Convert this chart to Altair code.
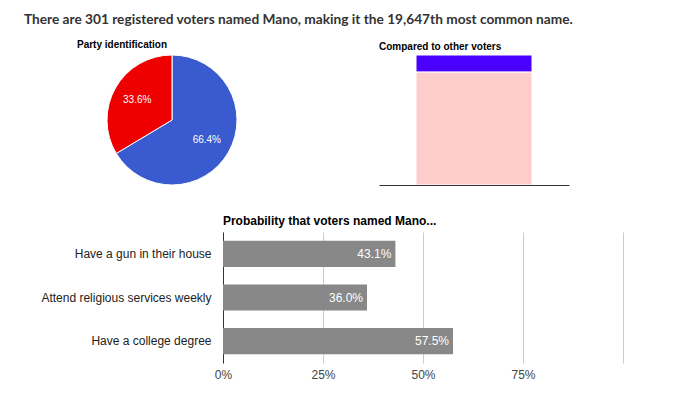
import altair as alt
import pandas as pd

title_text = "There are 301 registered voters named Mano, making it the 19,647th most common name."

party_labels = ["Democrat", "Republican"]
party_values = [0.664, 0.336]
party_colors = ["#3a5bcf", "#ee0000"]

compare_segments = ["Other voters", "Voters named Mano"]
compare_values = [0.87, 0.13]
compare_colors = ["#ffcccc", "#4a00ff"]

prob_labels = ["Have a gun in their house", "Attend religious services weekly", "Have a college degree"]
prob_values = [0.431, 0.360, 0.575]
x_ticks = [0, 0.25, 0.5, 0.75, 1.0]

FONT = "Liberation Sans"

# Pie
pie_df = pd.DataFrame({"party": party_labels, "share": party_values, "order": [0, 1]})
base_pie = alt.Chart(pie_df).encode(
    theta=alt.Theta("share:Q", stack=True),
    order=alt.Order("order:Q"),
)
pie = alt.layer(
    base_pie.mark_arc(radius=65, stroke="white", strokeWidth=1).encode(
        color=alt.Color("party:N", scale=alt.Scale(domain=party_labels, range=party_colors), legend=None)
    ),
    base_pie.mark_text(radius=40, fontSize=10, font=FONT, color="white").encode(
        text=alt.Text("share:Q", format=".1%")
    ),
).properties(
    width=190, height=130,
    title=alt.TitleParams("Party identification", anchor="start", fontSize=10, font=FONT,
                          fontWeight="bold", color="#000", offset=-5, baseline="alphabetic"),
)

# Stacked comparison bar
cmp_df = pd.DataFrame({"group": ["All"] * 2, "segment": compare_segments, "value": compare_values, "order": [0, 1]})
stack = alt.Chart(cmp_df).mark_bar(size=116, stroke="white", strokeWidth=1).encode(
    x=alt.X("group:N", axis=alt.Axis(labels=False, ticks=False, title=None, domainColor="#333",
                                     grid=False, zindex=1)),
    y=alt.Y("value:Q", stack=True, scale=alt.Scale(domain=[0, 1]), axis=None),
    color=alt.Color("segment:N", scale=alt.Scale(domain=compare_segments, range=compare_colors), legend=None),
    order=alt.Order("order:Q"),
).properties(
    width=190, height=130,
    title=alt.TitleParams("Compared to other voters", anchor="start", fontSize=10, font=FONT,
                          fontWeight="bold", color="#000", offset=-5, baseline="alphabetic"),
)

# Probability bars (view starts under the pie; data area shifted right by 146px)
prob_df = pd.DataFrame({"label": prob_labels, "value": prob_values})
bars_base = alt.Chart(prob_df).encode(
    y=alt.Y("label:N", sort=prob_labels, scale=alt.Scale(paddingInner=0.4, paddingOuter=0.2),
            axis=alt.Axis(title=None, ticks=False, domainColor="#333", labelPadding=12, labelFontSize=12,
                          labelColor="#222", labelFont=FONT, offset=-146)),
    x=alt.X("value:Q", scale=alt.Scale(domain=[0, 1], range=[146, 546]),
            axis=alt.Axis(values=x_ticks, labelExpr="datum.value >= 1 ? '' : format(datum.value, '.0%')",
                          title=None, domain=False, ticks=False, gridColor="#cccccc", labelPadding=6,
                          labelFontSize=12, labelColor="#444", labelFlush=False, labelFont=FONT)),
)
bars = alt.layer(
    bars_base.mark_bar(color="#888888"),
    bars_base.mark_text(align="right", dx=-4, color="white", fontSize=12, font=FONT).encode(
        text=alt.Text("value:Q", format=".1%")
    ),
).properties(
    width=546, height=131,
    title=alt.TitleParams("Probability that voters named Mano...", anchor="start", dx=182, fontSize=12,
                          font=FONT, fontWeight="bold", color="#000", offset=-5, baseline="alphabetic"),
)

chart = alt.vconcat(
    alt.hconcat(pie, stack, spacing=112).resolve_scale(color="independent"),
    bars,
    spacing=28,
).resolve_scale(color="independent").properties(
    title=alt.TitleParams(title_text, anchor="start", dx=-17, fontSize=13.7, font="Lato",
                          fontWeight="bold", color="#333", offset=2, baseline="alphabetic"),
    padding={"left": 15, "top": 5, "right": 5, "bottom": 5},
).configure(font=FONT).configure_view(strokeWidth=0)

chart.save("out.html", embed_options={"renderer": "svg", "actions": False})
